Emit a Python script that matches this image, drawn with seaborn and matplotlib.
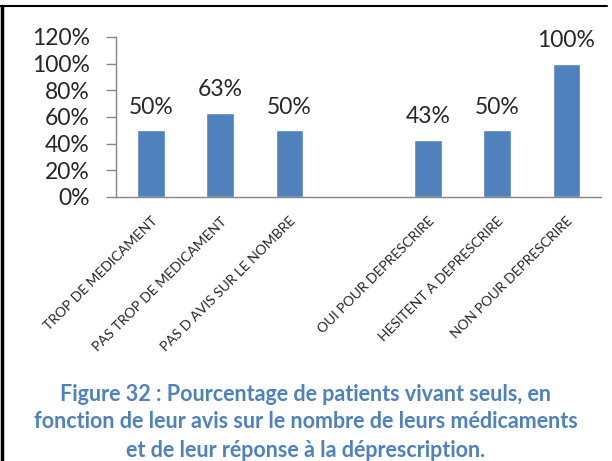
import numpy as np
import pandas as pd
import matplotlib.pyplot as plt
import seaborn as sns
from matplotlib.lines import Line2D

# data
categories = ["TROP DE MEDICAMENT", "PAS TROP DE MEDICAMENT", "PAS D AVIS SUR LE NOMBRE",
              " ", "OUI POUR DEPRESCRIRE", "HESITENT A DEPRESCRIRE", "NON POUR DEPRESCRIRE"]
bar_cats = ["TROP DE MEDICAMENT", "PAS TROP DE MEDICAMENT", "PAS D AVIS SUR LE NOMBRE",
            "OUI POUR DEPRESCRIRE", "HESITENT A DEPRESCRIRE", "NON POUR DEPRESCRIRE"]
pct = [50, 63, 50, 43, 50, 100]
y_ticks = [0, 20, 40, 60, 80, 100, 120]

caption = ["Figure 32 : Pourcentage de patients vivant seuls, en",
           "fonction de leur avis sur le nombre de leurs médicaments",
           "et de leur réponse à la déprescription."]

sns.set_style("white")
plt.rcParams['font.family'] = ['Lato', 'DejaVu Sans']

df = pd.DataFrame({"cat": bar_cats, "pct": pct})

fig = plt.figure(figsize=(6.12, 4.61), dpi=100)
ax = fig.add_axes([0.19, 0.573, 0.792, 0.347])

sns.barplot(data=df, x="cat", y="pct", order=categories, color="#4F81BD",
            width=0.4, saturation=1, ax=ax)

for c in ax.containers:
    ax.bar_label(c, labels=[f"{v:.0f}%" for v in pct], padding=9, fontsize=16.5)

ax.set_ylim(0, 120)
ax.set_yticks(y_ticks)
ax.set_yticklabels([f"{v}%" for v in y_ticks], fontsize=16.5)
ax.set_xlim(-0.5, len(categories) - 0.5)
ax.set_xlabel("")
ax.set_ylabel("")

ax.set_xticks(range(len(categories)))
ax.set_xticklabels(categories, rotation=45, ha="right", rotation_mode="anchor", fontsize=10)
ax.tick_params(axis="x", length=0, pad=13)
ax.set_xticks(np.arange(-0.5, len(categories)), minor=True)
ax.tick_params(axis="x", which="minor", length=5, color="#868686", width=1, direction="out")
ax.tick_params(axis="y", length=7, color="#868686", width=1, direction="out", pad=12, left=True)

for s in ["top", "right"]:
    ax.spines[s].set_visible(False)
for s in ["left", "bottom"]:
    ax.spines[s].set_color("#868686")
    ax.spines[s].set_linewidth(1)

# caption (last line kept inside the picture)
for i, line in enumerate(caption):
    fig.text(0.5, 1 - (394 + i * 28) / 461, line, ha="center", va="center",
             fontsize=15.5, fontweight="bold", color="#4F81BD")

# frame lines from the original document
fig.add_artist(Line2D([0, 607 / 612], [1 - 6 / 461] * 2, color="black", lw=1.5))
fig.add_artist(Line2D([1.5 / 612] * 2, [0, 1 - 6 / 461], color="black", lw=2.5))

fig.savefig("out.png", dpi=100)
